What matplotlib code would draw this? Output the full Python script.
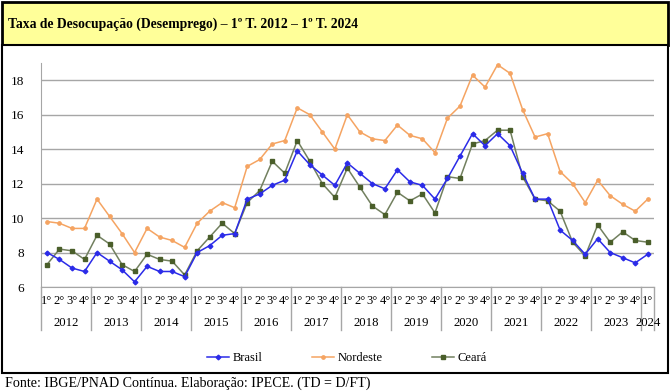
import matplotlib.pyplot as plt
from matplotlib.patches import Rectangle
from matplotlib.lines import Line2D

plt.rcParams['font.family'] = ['Liberation Serif', 'DejaVu Serif']

# Data (quarterly unemployment rate, %)
years = ['2012', '2013', '2014', '2015', '2016', '2017', '2018',
         '2019', '2020', '2021', '2022', '2023', '2024']
quarters = ['1°', '2°', '3°', '4°']

brasil = [8.0, 7.6, 7.1, 6.9, 8.0, 7.5, 7.0, 6.3, 7.2, 6.9, 6.9, 6.6,
          8.0, 8.4, 9.0, 9.1, 11.1, 11.4, 11.9, 12.2, 13.9, 13.1, 12.5, 11.9,
          13.2, 12.6, 12.0, 11.7, 12.8, 12.1, 11.9, 11.1, 12.3, 13.6, 14.9, 14.2,
          14.9, 14.2, 12.6, 11.1, 11.1, 9.3, 8.7, 7.9, 8.8, 8.0, 7.7, 7.4, 7.9]
nordeste = [9.8, 9.7, 9.4, 9.4, 11.1, 10.1, 9.1, 8.0, 9.4, 8.9, 8.7, 8.3,
            9.7, 10.4, 10.9, 10.6, 13.0, 13.4, 14.3, 14.5, 16.4, 16.0, 15.0, 14.0,
            16.0, 15.0, 14.6, 14.5, 15.4, 14.8, 14.6, 13.8, 15.8, 16.5, 18.3, 17.6,
            18.9, 18.4, 16.3, 14.7, 14.9, 12.7, 12.0, 10.9, 12.2, 11.3, 10.8, 10.4, 11.1]
ceara = [7.3, 8.2, 8.1, 7.6, 9.0, 8.5, 7.3, 6.9, 7.9, 7.6, 7.5, 6.7,
         8.1, 8.9, 9.7, 9.1, 10.9, 11.6, 13.3, 12.6, 14.5, 13.3, 12.0, 11.2,
         12.9, 11.8, 10.7, 10.2, 11.5, 11.0, 11.4, 10.3, 12.4, 12.3, 14.3, 14.5,
         15.1, 15.1, 12.4, 11.1, 11.0, 10.4, 8.6, 7.8, 9.6, 8.6, 9.2, 8.7, 8.6]

W, H = 670, 392
fig = plt.figure(figsize=(W / 100, H / 100), dpi=100)


def fx(x):
    return x / W


def fy(y):
    return 1 - y / H


# title box and chart box (drawn behind the axes)
fig.patches.append(Rectangle((fx(1.5), fy(45)), fx(666), 43 / H, transform=fig.transFigure,
                             facecolor='#FFFF99', edgecolor='black', linewidth=2, zorder=-5))
fig.patches.append(Rectangle((fx(1.5), fy(373)), fx(666), 328 / H, transform=fig.transFigure,
                             facecolor='white', edgecolor='black', linewidth=1.5, zorder=-5))
fig.text(fx(8), fy(24), 'Taxa de Desocupação (Desemprego) – 1º T. 2012 – 1º T. 2024',
         fontsize=9.8, fontweight='bold', va='center', ha='left')
fig.text(fx(5), fy(383), 'Fonte: IBGE/PNAD Contínua. Elaboração: IPECE. (TD = D/FT)',
         fontsize=10.1, va='center', ha='left')

# plot area
left, right, top, bottom = 40.7, 654, 63, 287
ax = fig.add_axes([fx(left), fy(bottom), fx(right - left), (bottom - top) / H])
ax.set_zorder(5)
ax.patch.set_alpha(0)
n = len(brasil)
x = [i + 0.5 for i in range(n)]

ax.plot(x, nordeste, color='#F5A462', lw=1.1, marker='o', ms=2.4, label='Nordeste', zorder=3)
ax.plot(x, ceara, color='#72805F', lw=1.1, marker='s', ms=3.4,
        markerfacecolor='#4A5E2A', markeredgecolor='#4A5E2A', label='Ceará', zorder=4)
ax.plot(x, brasil, color='#2B2BE8', lw=1.1, marker='D', ms=2.4, label='Brasil', zorder=5)

ax.set_xlim(0, n)
ax.set_ylim(6, 19)
ax.set_yticks(range(6, 19, 2))
ax.yaxis.grid(True, color='#A6A6A6', lw=1.0)
ax.set_axisbelow(True)
for s in ['top', 'right']:
    ax.spines[s].set_visible(False)
ax.spines['left'].set_color('#A6A6A6')
ax.spines['bottom'].set_color('#A6A6A6')
ax.tick_params(axis='y', length=0, pad=12, labelsize=9.5)

# quarter tick labels
qlabels = [quarters[i % 4] for i in range(n)]
ax.set_xticks(x)
ax.set_xticklabels(qlabels)
ax.tick_params(axis='x', length=0, pad=6, labelsize=9)

# year labels and separators
tr = ax.get_xaxis_transform()
hpx = bottom - top
for k, yr in enumerate(years):
    start = 4 * k
    end = min(4 * k + 4, n)
    ax.text((start + end) / 2, -(323 - bottom) / hpx, yr, transform=tr,
            ha='center', va='center', fontsize=9.2)
for b in list(range(0, n, 4)) + [n]:
    ax.add_line(Line2D([b, b], [0, -(330 - bottom) / hpx], transform=tr,
                       color='#A6A6A6', lw=1.0, clip_on=False))

handles, labels = ax.get_legend_handles_labels()
order = [2, 0, 1]
leg = fig.legend([handles[i] for i in order], [labels[i] for i in order],
                 loc='center', bbox_to_anchor=(fx(347), fy(358)), ncol=3, frameon=False,
                 fontsize=9, handlelength=1.7, handletextpad=0.3, columnspacing=4)
leg.set_zorder(6)

fig.savefig('out.png', dpi=100)
